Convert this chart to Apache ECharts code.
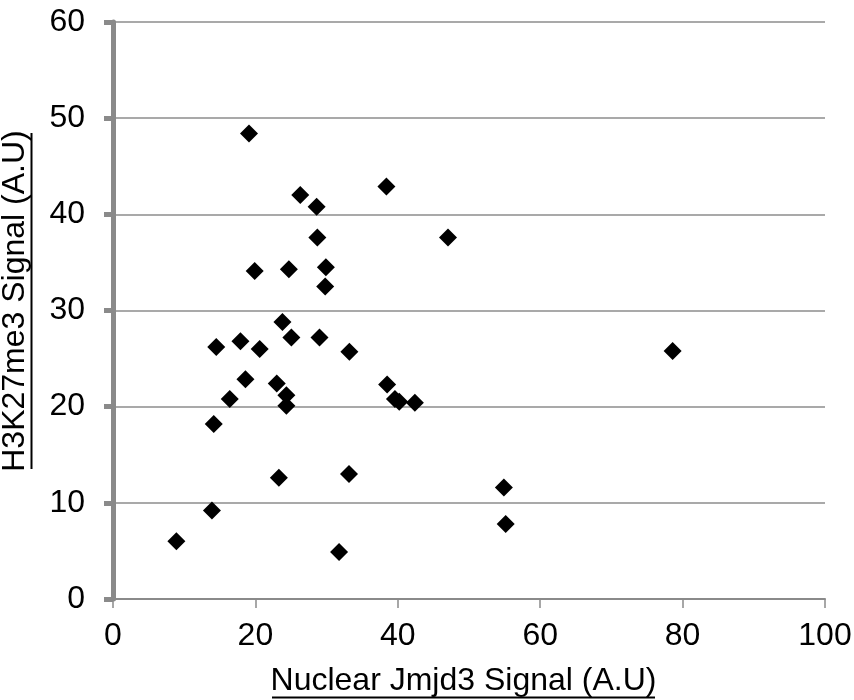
<!DOCTYPE html>
<html>
<head>
<meta charset="utf-8">
<script src="https://cdn.jsdelivr.net/npm/echarts@6/dist/echarts.min.js"></script>
<style>html,body{margin:0;padding:0;background:#fff}#c{width:854px;height:700px}</style>
</head>
<body>
<div id="c"></div>
<script>
var xValues = [8.9, 13.9, 14.15, 14.5, 16.4, 17.9, 18.6, 19.1, 19.9, 20.6, 23.0, 23.3, 23.8, 24.35, 24.35, 24.7, 25.05, 26.3, 28.6, 28.7, 29.0, 29.8, 29.9, 31.75, 33.15, 33.2, 38.4, 38.5, 39.6, 40.2, 42.4, 47.05, 54.9, 55.15, 78.6];
var yValues = [6.0, 9.2, 18.2, 26.2, 20.8, 26.8, 22.85, 48.4, 34.1, 26.0, 22.4, 12.6, 28.8, 21.2, 20.1, 34.3, 27.2, 42.0, 40.8, 37.6, 27.2, 32.5, 34.5, 4.9, 13.0, 25.7, 42.9, 22.3, 20.8, 20.5, 20.4, 37.6, 11.6, 7.8, 25.8];
var xTitle = 'Nuclear Jmjd3 Signal (A.U)';
var yTitle = 'H3K27me3 Signal (A.U)';
var xMin = 0, xMax = 100, xStep = 20;
var yMin = 0, yMax = 60, yStep = 10;

var points = xValues.map(function (x, i) { return [x, yValues[i]]; });
var font = '"Liberation Sans", Arial, sans-serif';
var chart = echarts.init(document.getElementById('c'), null, {renderer: 'canvas'});
chart.setOption({
  animation: false,
  backgroundColor: '#fff',
  grid: {left: 113, right: 29, top: 22, bottom: 101, containLabel: false, outerBoundsMode: 'none'},
  xAxis: {
    type: 'value', min: xMin, max: xMax, interval: xStep,
    name: xTitle, nameLocation: 'middle', nameGap: 66,
    nameTextStyle: {fontFamily: font, fontSize: 32, color: '#000', padding: [0, 11, 0, 0]},
    axisLine: {show: true, lineStyle: {color: '#8a8a8a', width: 2}},
    axisTick: {show: true, length: 9, inside: false, lineStyle: {color: '#8a8a8a', width: 1.5}},
    axisLabel: {fontFamily: font, fontSize: 32, color: '#000', margin: 21},
    splitLine: {show: false}
  },
  yAxis: {
    type: 'value', min: yMin, max: yMax, interval: yStep,
    name: yTitle, nameLocation: 'middle', nameGap: 82,
    nameTextStyle: {fontFamily: font, fontSize: 32, color: '#000', padding: [0, 0, 0, 19]},
    axisLine: {show: true, lineStyle: {color: '#8a8a8a', width: 5}},
    axisTick: {show: true, length: 9, lineStyle: {color: '#8a8a8a', width: 5}},
    axisLabel: {fontFamily: font, fontSize: 32, color: '#000', margin: 28},
    splitLine: {show: true, lineStyle: {color: '#8c8c8c', width: 1.5}}
  },
  series: [{
    type: 'scatter',
    data: points,
    symbol: 'diamond',
    symbolSize: [18, 18],
    itemStyle: {color: '#000', opacity: 1}
  }],
  graphic: [
    {type: 'line', shape: {x1: 272, y1: 697.5, x2: 655, y2: 697.5}, style: {stroke: '#000', lineWidth: 2}},
    {type: 'line', shape: {x1: 31.5, y1: 133, x2: 31.5, y2: 469}, style: {stroke: '#000', lineWidth: 2}}
  ]
});
</script>
</body>
</html>
